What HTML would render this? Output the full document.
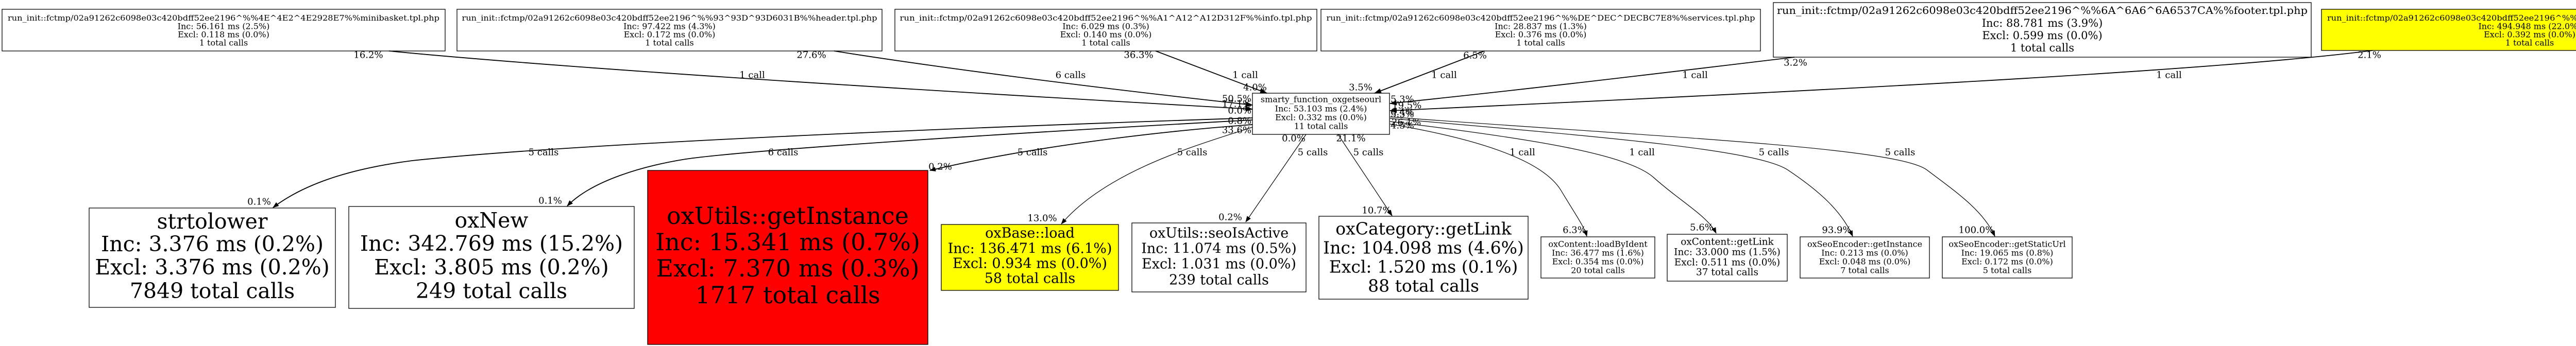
<!DOCTYPE html>
<html>
<head>
<meta charset="utf-8">
<style>
html,body{margin:0;padding:0;background:#fff;overflow:hidden;width:5321px;height:672px;}
svg{display:block;overflow:hidden;}
text{font-family:"DejaVu Serif","Liberation Serif",serif;fill:#000;}
.n{text-anchor:middle;dominant-baseline:central;}
.s{text-anchor:start;dominant-baseline:central;}
.l{font-size:18px;text-anchor:middle;dominant-baseline:central;}
.le{font-size:18px;text-anchor:end;dominant-baseline:central;}
.ls{font-size:18px;text-anchor:start;dominant-baseline:central;}
.e1{fill:none;stroke:#000;stroke-width:1.8;}
.e2{fill:none;stroke:#000;stroke-width:1.2;}
.b{stroke:#000;stroke-width:1.3;}
</style>
</head>
<body>
<svg width="5321" height="672" viewBox="0 0 5321 672" xmlns="http://www.w3.org/2000/svg">
<defs>
<marker id="A" markerWidth="14" markerHeight="10" refX="13" refY="5" orient="auto" markerUnits="userSpaceOnUse"><path d="M0,0 L14,5 L0,10 z" fill="#000"/></marker>
<marker id="B" markerWidth="12" markerHeight="9" refX="11" refY="4.5" orient="auto" markerUnits="userSpaceOnUse"><path d="M0,0 L12,4.5 L0,9 z" fill="#000"/></marker>
</defs>
<rect x="0" y="0" width="5321" height="672" fill="#fff"/>

<!-- Top nodes -->
<rect class="b" x="4" y="18" width="860" height="81" fill="#fff"/>
<text class="s" font-size="15" x="15" y="35" textLength="838" lengthAdjust="spacingAndGlyphs">run_init::fctmp/02a91262c6098e03c420bdff52ee2196^%%4E^4E2^4E2928E7%%minibasket.tpl.php</text>
<text class="n" font-size="16" x="434" y="51">Inc: 56.161 ms (2.5%)</text>
<text class="n" font-size="16" x="434" y="67">Excl: 0.118 ms (0.0%)</text>
<text class="n" font-size="16" x="434" y="83">1 total calls</text>

<rect class="b" x="887" y="18" width="825" height="81" fill="#fff"/>
<text class="s" font-size="15" x="896.5" y="35" textLength="806" lengthAdjust="spacingAndGlyphs">run_init::fctmp/02a91262c6098e03c420bdff52ee2196^%%93^93D^93D6031B%%header.tpl.php</text>
<text class="n" font-size="16" x="1299.5" y="51">Inc: 97.422 ms (4.3%)</text>
<text class="n" font-size="16" x="1299.5" y="67">Excl: 0.172 ms (0.0%)</text>
<text class="n" font-size="16" x="1299.5" y="83">1 total calls</text>

<rect class="b" x="1737" y="18" width="819" height="81" fill="#fff"/>
<text class="s" font-size="15" x="1746.5" y="35" textLength="800" lengthAdjust="spacingAndGlyphs">run_init::fctmp/02a91262c6098e03c420bdff52ee2196^%%A1^A12^A12D312F%%info.tpl.php</text>
<text class="n" font-size="16" x="2146.5" y="51">Inc: 6.029 ms (0.3%)</text>
<text class="n" font-size="16" x="2146.5" y="67">Excl: 0.140 ms (0.0%)</text>
<text class="n" font-size="16" x="2146.5" y="83">1 total calls</text>

<rect class="b" x="2564" y="18" width="853" height="81" fill="#fff"/>
<text class="s" font-size="15" x="2574.5" y="35" textLength="832" lengthAdjust="spacingAndGlyphs">run_init::fctmp/02a91262c6098e03c420bdff52ee2196^%%DE^DEC^DECBC7E8%%services.tpl.php</text>
<text class="n" font-size="16" x="2990.5" y="51">Inc: 28.837 ms (1.3%)</text>
<text class="n" font-size="16" x="2990.5" y="67">Excl: 0.376 ms (0.0%)</text>
<text class="n" font-size="16" x="2990.5" y="83">1 total calls</text>

<rect class="b" x="3442" y="5" width="1044" height="106" fill="#fff"/>
<text class="s" font-size="20" x="3449" y="20" textLength="1030" lengthAdjust="spacingAndGlyphs">run_init::fctmp/02a91262c6098e03c420bdff52ee2196^%%6A^6A6^6A6537CA%%footer.tpl.php</text>
<text class="n" font-size="21" x="3964" y="45">Inc: 88.781 ms (3.9%)</text>
<text class="n" font-size="21" x="3964" y="69">Excl: 0.599 ms (0.0%)</text>
<text class="n" font-size="21" x="3964" y="93">1 total calls</text>

<rect class="b" x="4506" y="18" width="808" height="80" fill="#ffff00"/>
<text class="s" font-size="15" x="4517" y="35" textLength="786" lengthAdjust="spacingAndGlyphs">run_init::fctmp/02a91262c6098e03c420bdff52ee2196^%%36^366^366ECF91%%page.tpl.php</text>
<text class="n" font-size="16" x="4910" y="51">Inc: 494.948 ms (22.0%)</text>
<text class="n" font-size="16" x="4910" y="67">Excl: 0.392 ms (0.0%)</text>
<text class="n" font-size="16" x="4910" y="83">1 total calls</text>

<!-- Central node -->
<rect class="b" x="2431" y="181" width="266" height="80" fill="#fff"/>
<text class="n" font-size="16" x="2564" y="193">smarty_function_oxgetseourl</text>
<text class="n" font-size="16" x="2564" y="211">Inc: 53.103 ms (2.4%)</text>
<text class="n" font-size="16" x="2564" y="228">Excl: 0.332 ms (0.0%)</text>
<text class="n" font-size="16" x="2564" y="245">11 total calls</text>

<!-- Incoming edges -->
<path class="e1" marker-end="url(#A)" d="M755,99 C1050,128 1600,165 2431,212"/>
<path class="e1" marker-end="url(#A)" d="M1619,99 C1800,128 2100,168 2431,204"/>
<path class="e1" marker-end="url(#A)" d="M2243,99 L2459,181"/>
<path class="e1" marker-end="url(#A)" d="M2881,99 L2668,181"/>
<path class="e1" marker-end="url(#A)" d="M3483,111 C3200,145 2950,175 2698,201"/>
<path class="e1" marker-end="url(#A)" d="M4605,98 C4300,138 3500,178 2698,215"/>

<!-- Outgoing edges left -->
<path class="e1" marker-end="url(#B)" d="M2431,229 C1800,250 1100,280 800,312 C700,325 600,350 530,403"/>
<path class="e1" marker-end="url(#B)" d="M2431,233 C1900,262 1450,292 1331,309 C1250,322 1150,350 1101,400"/>
<path class="e1" marker-end="url(#B)" d="M2431,242 C2250,255 2000,285 1805,331"/>
<path class="e2" marker-end="url(#B)" d="M2431,247 C2330,280 2150,330 2060,435"/>
<path class="e2" marker-end="url(#B)" d="M2535,261 L2418,431"/>
<path class="e2" marker-end="url(#B)" d="M2597,261 L2702,419"/>

<!-- Outgoing edges right -->
<path class="e2" marker-end="url(#B)" d="M2698,241 C2900,275 3000,320 3030,370 S3075,440 3080,459"/>
<path class="e2" marker-end="url(#B)" d="M2698,236 C2980,270 3160,300 3210,345 S3315,420 3331,453"/>
<path class="e2" marker-end="url(#B)" d="M2698,230 C3100,265 3410,290 3470,330 S3575,410 3596,459"/>
<path class="e2" marker-end="url(#B)" d="M2698,227 C3200,265 3680,285 3740,330 S3850,410 3872,459"/>

<!-- Bottom nodes -->
<rect class="b" x="173" y="404" width="478" height="193" fill="#fff"/>
<text class="n" font-size="41" x="412" y="430">strtolower</text>
<text class="n" font-size="41" x="412" y="474">Inc: 3.376 ms (0.2%)</text>
<text class="n" font-size="41" x="412" y="519">Excl: 3.376 ms (0.2%)</text>
<text class="n" font-size="41" x="412" y="565">7849 total calls</text>

<rect class="b" x="677" y="401" width="554" height="198" fill="#fff"/>
<text class="n" font-size="41" x="954" y="428">oxNew</text>
<text class="n" font-size="41" x="954" y="473">Inc: 342.769 ms (15.2%)</text>
<text class="n" font-size="41" x="954" y="519">Excl: 3.805 ms (0.2%)</text>
<text class="n" font-size="41" x="954" y="565">249 total calls</text>

<rect class="b" x="1257" y="331" width="544" height="338" fill="#ff0000"/>
<text class="n" font-size="46" x="1529" y="419">oxUtils::getInstance</text>
<text class="n" font-size="46" x="1529" y="470">Inc: 15.341 ms (0.7%)</text>
<text class="n" font-size="46" x="1529" y="521">Excl: 7.370 ms (0.3%)</text>
<text class="n" font-size="46" x="1529" y="573">1717 total calls</text>

<rect class="b" x="1827" y="436" width="344" height="128" fill="#ffff00"/>
<text class="n" font-size="27" x="1999" y="453">oxBase::load</text>
<text class="n" font-size="27" x="1999" y="483">Inc: 136.471 ms (6.1%)</text>
<text class="n" font-size="27" x="1999" y="512">Excl: 0.934 ms (0.0%)</text>
<text class="n" font-size="27" x="1999" y="541">58 total calls</text>

<rect class="b" x="2197" y="433" width="338" height="134" fill="#fff"/>
<text class="n" font-size="27" x="2366" y="453">oxUtils::seoIsActive</text>
<text class="n" font-size="27" x="2366" y="483">Inc: 11.074 ms (0.5%)</text>
<text class="n" font-size="27" x="2366" y="513">Excl: 1.031 ms (0.0%)</text>
<text class="n" font-size="27" x="2366" y="544">239 total calls</text>

<rect class="b" x="2560" y="420" width="406" height="161" fill="#fff"/>
<text class="n" font-size="33" x="2763" y="444">oxCategory::getLink</text>
<text class="n" font-size="33" x="2763" y="481">Inc: 104.098 ms (4.6%)</text>
<text class="n" font-size="33" x="2763" y="518">Excl: 1.520 ms (0.1%)</text>
<text class="n" font-size="33" x="2763" y="555">88 total calls</text>

<rect class="b" x="2991" y="460" width="221" height="80" fill="#fff"/>
<text class="n" font-size="16" x="3101.5" y="474">oxContent::loadByIdent</text>
<text class="n" font-size="16" x="3101.5" y="491">Inc: 36.477 ms (1.6%)</text>
<text class="n" font-size="16" x="3101.5" y="508">Excl: 0.354 ms (0.0%)</text>
<text class="n" font-size="16" x="3101.5" y="525">20 total calls</text>

<rect class="b" x="3236" y="455" width="233" height="91" fill="#fff"/>
<text class="n" font-size="18.5" x="3352.5" y="470">oxContent::getLink</text>
<text class="n" font-size="18.5" x="3352.5" y="490">Inc: 33.000 ms (1.5%)</text>
<text class="n" font-size="18.5" x="3352.5" y="510">Excl: 0.511 ms (0.0%)</text>
<text class="n" font-size="18.5" x="3352.5" y="529">37 total calls</text>

<rect class="b" x="3494" y="460" width="251" height="80" fill="#fff"/>
<text class="n" font-size="16" x="3619.5" y="474">oxSeoEncoder::getInstance</text>
<text class="n" font-size="16" x="3619.5" y="491">Inc: 0.213 ms (0.0%)</text>
<text class="n" font-size="16" x="3619.5" y="508">Excl: 0.048 ms (0.0%)</text>
<text class="n" font-size="16" x="3619.5" y="525">7 total calls</text>

<rect class="b" x="3770" y="460" width="252" height="80" fill="#fff"/>
<text class="n" font-size="16" x="3896" y="474">oxSeoEncoder::getStaticUrl</text>
<text class="n" font-size="16" x="3896" y="491">Inc: 19.065 ms (0.8%)</text>
<text class="n" font-size="16" x="3896" y="508">Excl: 0.172 ms (0.0%)</text>
<text class="n" font-size="16" x="3896" y="525">5 total calls</text>

<!-- Tail labels top -->
<text class="l" x="715" y="107">16.2%</text>
<text class="l" x="1575" y="107">27.6%</text>
<text class="l" x="2210" y="107">36.3%</text>
<text class="l" x="2863" y="108">6.5%</text>
<text class="l" x="3485" y="122">3.2%</text>
<text class="l" x="4599" y="107">2.1%</text>

<!-- Call labels top -->
<text class="l" x="1460" y="146">1 call</text>
<text class="l" x="2078" y="146">6 calls</text>
<text class="l" x="2417" y="146">1 call</text>
<text class="l" x="2803" y="146">1 call</text>
<text class="l" x="3290" y="146">1 call</text>
<text class="l" x="4210" y="146">1 call</text>

<!-- Labels around central node -->
<text class="l" x="2436" y="170">4.0%</text>
<text class="l" x="2641" y="170">3.5%</text>
<text class="le" x="2429" y="192">50.5%</text>
<text class="le" x="2429" y="202">17.1%</text>
<text class="le" x="2429" y="215">0.0%</text>
<text class="le" x="2429" y="235">0.8%</text>
<text class="le" x="2429" y="253">33.6%</text>
<text class="ls" x="2699" y="193">5.3%</text>
<text class="ls" x="2702" y="205">19.5%</text>
<text class="ls" x="2699" y="218">6.4%</text>
<text class="ls" x="2699" y="222">5.5%</text>
<text class="ls" x="2701" y="238">26.1%</text>
<text class="ls" x="2699" y="244">4.5%</text>
<text class="l" x="2511" y="269">0.0%</text>
<text class="l" x="2622" y="269">21.1%</text>

<!-- Call labels middle -->
<text class="l" x="1055" y="296">5 calls</text>
<text class="l" x="1520" y="296">6 calls</text>
<text class="l" x="2004" y="296">5 calls</text>
<text class="l" x="2314" y="296">5 calls</text>
<text class="l" x="2548" y="296">5 calls</text>
<text class="l" x="2656" y="296">5 calls</text>
<text class="l" x="2955" y="296">1 call</text>
<text class="l" x="3187" y="296">1 call</text>
<text class="l" x="3443" y="296">5 calls</text>
<text class="l" x="3688" y="296">5 calls</text>

<!-- Head labels bottom -->
<text class="l" x="503" y="392">0.1%</text>
<text class="l" x="1068" y="390">0.1%</text>
<text class="l" x="1825" y="324">0.2%</text>
<text class="l" x="2023" y="424">13.0%</text>
<text class="l" x="2388" y="422">0.2%</text>
<text class="l" x="2672" y="409">10.7%</text>
<text class="l" x="3056" y="447">6.3%</text>
<text class="l" x="3303" y="442">5.6%</text>
<text class="l" x="3565" y="447">93.9%</text>
<text class="l" x="3836" y="447">100.0%</text>
</svg>
</body>
</html>
